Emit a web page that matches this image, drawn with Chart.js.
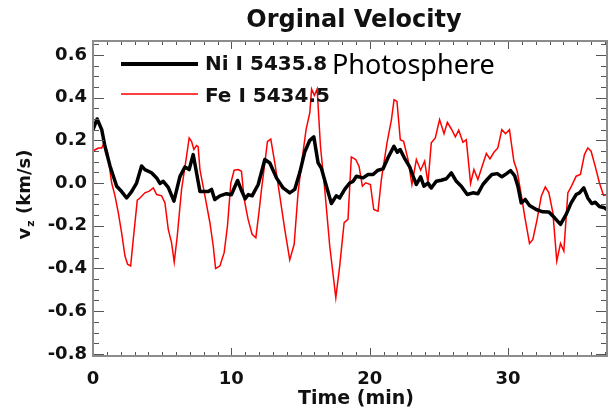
<!DOCTYPE html>
<html>
<head>
<meta charset="utf-8">
<script src="https://cdn.jsdelivr.net/npm/chart.js@4"></script>
<style>
  html, body { margin: 0; padding: 0; background: #fff; }
</style>
</head>
<body>
<canvas id="velChart" width="610" height="411"></canvas>
<script>
/* ======================================================================
DATA
====================================================================== */
// Ni I 5435.8 (black)
const niTime = [0, 0.3, 0.63, 0.87, 1.23, 1.71, 2.07, 2.43, 2.79, 3.15, 3.51, 3.75, 4.23, 4.6,
  4.84, 5.08, 5.44, 5.85, 6.28, 6.64, 6.95, 7.24, 7.45, 7.73, 8.33, 8.57, 8.8, 9.17, 9.65,
  10.0, 10.45, 10.7, 11.0, 11.23, 11.5, 11.94, 12.42, 12.78, 13.26, 13.74, 14.22, 14.58,
  14.95, 15.3, 15.67, 15.96, 16.27, 16.5, 16.87, 17.23, 17.58, 17.83, 18.19, 18.55, 18.8,
  19.04, 19.52, 19.88, 20.24, 20.6, 20.96, 21.32, 21.75, 22.0, 22.2, 22.5, 22.89, 23.13,
  23.37, 23.68, 23.92, 24.21, 24.45, 24.81, 25.17, 25.54, 25.9, 26.26, 26.62, 27.05, 27.46,
  27.82, 28.18, 28.54, 28.83, 29.22, 29.55, 29.87, 30.18, 30.47, 30.71, 30.95, 31.24, 31.55,
  32.03, 32.51, 32.95, 33.36, 33.79, 34.2, 34.56, 34.92, 35.16, 35.47, 35.76, 36.05, 36.3,
  36.6, 36.97, 37.2];
const niVel = [0.25, 0.30, 0.25, 0.17, 0.08, -0.015, -0.04, -0.07, -0.04, 0.0, 0.08, 0.063, 0.048, 0.024,
  -0.002, 0.008, -0.02, -0.085, 0.03, 0.075, 0.063, 0.133, 0.06, -0.04, -0.04, -0.03, -0.077, -0.06, -0.05,
  -0.055, 0.012, -0.03, -0.074, -0.054, -0.06, -0.007, 0.11, 0.094, 0.024, -0.023, -0.046, -0.03,
  0.05, 0.145, 0.2, 0.216, 0.094, 0.07, -0.015, -0.096, -0.06, -0.07, -0.03, 0.0, 0.008,
  0.032, 0.024, 0.04, 0.04, 0.06, 0.066, 0.118, 0.172, 0.144, 0.157, 0.118, 0.076, 0.032,
  -0.007, 0.029, -0.015, 0.0, -0.023, 0.008, 0.013, 0.02, 0.048, 0.008, -0.015, -0.054, -0.046,
  -0.05, -0.007, 0.02, 0.04, 0.044, 0.029, 0.043, 0.058, 0.035, -0.015, -0.093, -0.077, -0.105,
  -0.124, -0.135, -0.136, -0.163, -0.194, -0.147, -0.093, -0.054, -0.046, -0.023, -0.07, -0.096, -0.09,
  -0.11, -0.116, -0.127];

// Fe I 5434.5 (red)
const feTime = [0, 0.38, 0.63, 0.79, 1.03, 1.35, 1.59, 1.83, 2.07, 2.31, 2.5, 2.72, 2.91, 3.2,
  3.39, 3.75, 4.07, 4.36, 4.6, 4.96, 5.2, 5.44, 5.68, 5.87, 6.09, 6.4, 6.76, 6.95, 7.12, 7.29,
  7.48, 7.6, 7.73, 8.09, 8.45, 8.69, 8.86, 9.17, 9.48, 9.72, 9.96, 10.2, 10.49, 10.73, 10.93,
  11.21, 11.5, 11.77, 11.99, 12.18, 12.42, 12.61, 12.85, 13.14, 13.5, 13.86, 14.22, 14.54,
  14.82, 15.11, 15.4, 15.67, 15.8, 16.0, 16.2, 16.44, 16.75, 17.11, 17.55, 17.83, 18.15,
  18.43, 18.67, 18.99, 19.23, 19.47, 19.71, 20.05, 20.29, 20.6, 20.84, 21.25, 21.57, 21.76,
  21.97, 22.21, 22.45, 22.77, 23.05, 23.37, 23.68, 23.97, 24.21, 24.45, 24.74, 25.05, 25.37,
  25.61, 25.9, 26.19, 26.43, 26.74, 26.98, 27.29, 27.53, 27.82, 28.11, 28.43, 28.69, 28.98,
  29.26, 29.55, 29.82, 30.1, 30.42, 30.66, 30.95, 31.24, 31.55, 31.79, 32.1, 32.4, 32.69,
  32.95, 33.24, 33.52, 33.79, 34.03, 34.32, 34.6, 34.92, 35.23, 35.52, 35.76, 36.0, 36.3,
  36.6, 36.9, 37.25];
const feVel = [0.15, 0.164, 0.164, 0.188, 0.149, 0.0, -0.06, -0.14, -0.233, -0.342, -0.38, -0.389, -0.264, -0.08,
  -0.07, -0.046, -0.038, -0.023, -0.054, -0.06, -0.093, -0.217, -0.28, -0.37, -0.248, -0.03, 0.125, 0.211, 0.195, 0.157,
  0.175, 0.17, 0.063, -0.06, -0.186, -0.295, -0.4, -0.389, -0.326, -0.2, 0.0, 0.06, 0.063, 0.055, -0.077,
  -0.17, -0.24, -0.256, -0.14, -0.03, 0.094, 0.195, 0.206, 0.094, -0.06, -0.217, -0.36, -0.287,
  -0.046, 0.11, 0.25, 0.33, 0.44, 0.41, 0.44, 0.172, -0.03, -0.295, -0.537, -0.389, -0.186,
  -0.17, 0.122, 0.11, 0.078, -0.015, 0.001, -0.007, -0.124, -0.132, 0.016, 0.188, 0.297, 0.39,
  0.382, 0.203, 0.195, 0.11, -0.007, 0.11, 0.06, 0.102, 0.0, 0.188, 0.211, 0.297, 0.231,
  0.284, 0.253, 0.216, 0.247, 0.191, 0.203, -0.002, 0.063, 0.016, 0.075, 0.138, 0.113, 0.144,
  0.164, 0.25, 0.231, 0.25, 0.102, 0.055, -0.054, -0.17, -0.283, -0.264, -0.17, -0.062, -0.018,
  -0.046, -0.14, -0.365, -0.283, -0.319, -0.046, -0.012, 0.032, 0.04, 0.133, 0.164, 0.149, 0.078,
  0.001, -0.058, -0.054];

// axis ticks
const xTickValues = [0, 10, 20, 30];
const yTickValues = [0.6, 0.4, 0.2, 0.0, -0.2, -0.4, -0.6, -0.8];

/* ======================================================================
Frame, ticks and texts
====================================================================== */
const BOLD = '"DejaVu Sans", sans-serif';

function seg(ctx, x1, y1, x2, y2) {
  ctx.beginPath();
  ctx.moveTo(x1, y1);
  ctx.lineTo(x2, y2);
  ctx.stroke();
}

const frameAndText = {
  id: 'frameAndText',
  afterDraw(chart) {
    const ctx = chart.ctx;
    const a = chart.chartArea;
    const xs = chart.scales.x;
    const ys = chart.scales.y;
    ctx.save();

    // minor / major ticks, pointing inward
    ctx.strokeStyle = '#555';
    ctx.lineWidth = 1;
    for (let t = 0; t <= 37; t++) {
      const px = Math.round(xs.getPixelForValue(t)) + 0.5;
      const len = t % 10 === 0 ? 8 : 4;
      seg(ctx, px, a.bottom, px, a.bottom - len);
      seg(ctx, px, a.top, px, a.top + len);
    }
    for (let i = -16; i <= 13; i++) {
      const py = Math.round(ys.getPixelForValue(i * 0.05)) + 0.5;
      const len = i % 4 === 0 ? 11 : 6;
      seg(ctx, a.left, py, a.left + len, py);
      seg(ctx, a.right, py, a.right - len, py);
    }

    // frame
    ctx.strokeStyle = '#8c8c8c';
    ctx.lineWidth = 2;
    ctx.strokeRect(a.left, a.top, a.right - a.left, a.bottom - a.top);

    // tick labels
    ctx.fillStyle = '#111';
    ctx.font = 'bold 18px ' + BOLD;
    ctx.textAlign = 'right';
    ctx.textBaseline = 'middle';
    yTickValues.forEach(v => {
      ctx.fillText(v.toFixed(1), a.left - 6, ys.getPixelForValue(v));
    });
    ctx.textAlign = 'center';
    xTickValues.forEach(t => {
      ctx.fillText(String(t), xs.getPixelForValue(t), a.bottom + 23);
    });

    // axis titles
    ctx.font = 'bold 19px ' + BOLD;
    ctx.fillText('Time (min)', (a.left + a.right) / 2 + 6, a.bottom + 43);

    ctx.save();
    ctx.translate(25, 195);
    ctx.rotate(-Math.PI / 2);
    ctx.textAlign = 'left';
    ctx.font = 'bold 18px ' + BOLD;
    const w1 = ctx.measureText('v').width;
    ctx.font = 'bold 11px ' + BOLD;
    const w2 = ctx.measureText('z').width;
    ctx.font = 'bold 18px ' + BOLD;
    const w3 = ctx.measureText(' (km/s)').width;
    let x0 = -(w1 + w2 + w3) / 2;
    ctx.fillText('v', x0, 0);
    ctx.font = 'bold 11px ' + BOLD;
    ctx.fillText('z', x0 + w1 + 1, 6);
    ctx.font = 'bold 18px ' + BOLD;
    ctx.fillText(' (km/s)', x0 + w1 + w2 + 1, 0);
    ctx.restore();

    // title
    ctx.textAlign = 'center';
    ctx.font = 'bold 24px ' + BOLD;
    ctx.fillText('Orginal Velocity', (a.left + a.right) / 2 + 4, 21);

    // legend
    ctx.lineCap = 'butt';
    ctx.strokeStyle = '#000';
    ctx.lineWidth = 4;
    seg(ctx, 121, 64, 198, 64);
    ctx.strokeStyle = 'rgb(255,0,0)';
    ctx.lineWidth = 1.5;
    seg(ctx, 121, 94, 198, 94);
    ctx.textAlign = 'left';
    ctx.font = 'bold 20px ' + BOLD;
    ctx.fillText('Ni I 5435.8', 205, 65);
    ctx.fillText('Fe I 5434.5', 205, 97);
    ctx.font = '27px "Noto Sans", sans-serif';
    ctx.fillStyle = '#000';
    ctx.fillText('Photosphere', 332, 66);

    ctx.restore();
  }
};

/* ======================================================================
Chart
====================================================================== */
const niPoints = niTime.map((t, i) => ({ x: t, y: niVel[i] }));
const fePoints = feTime.map((t, i) => ({ x: t, y: feVel[i] }));

const velCanvas = document.getElementById('velChart');
let velChart = new Chart(velCanvas, {
  type: 'line',
  data: {
    datasets: [{
      label: 'Ni I 5435.8',
      data: niPoints,
      borderColor: '#000',
      borderWidth: 3.5,
      borderJoinStyle: 'round',
      pointRadius: 0,
      tension: 0,
      clip: 0
    }, {
      label: 'Fe I 5434.5',
      data: fePoints,
      borderColor: 'rgb(255,0,0)',
      borderWidth: 1.5,
      pointRadius: 0,
      tension: 0,
      clip: 0
    }]
  },
  options: {
    responsive: false,
    animation: false,
    layout: {
      padding: { left: 93, right: 3, top: 41, bottom: 55 }
    },
    plugins: {
      legend: { display: false },
      title: { display: false },
      tooltip: { enabled: false }
    },
    scales: {
      x: { type: 'linear', min: 0, max: 37.15, display: false },
      y: { min: -0.81, max: 0.665, display: false }
    }
  },
  plugins: [frameAndText]
});
</script>
</body>
</html>
